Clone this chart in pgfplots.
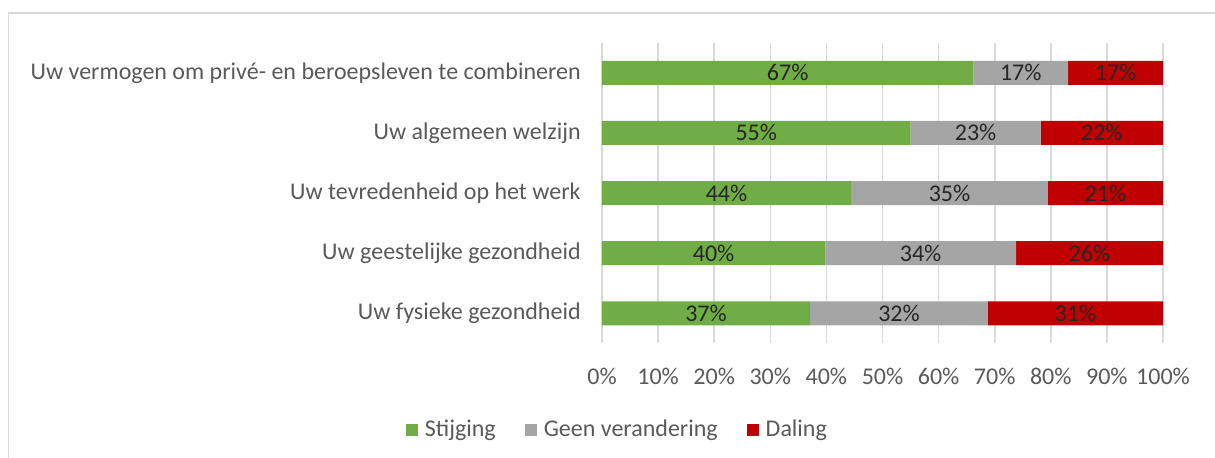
\documentclass[border=0pt]{standalone}
\usepackage{fontspec}
\setmainfont{Carlito}
\usepackage{pgfplots}
\pgfplotsset{compat=1.18}

\definecolor{cGreen}{HTML}{70AD47}
\definecolor{cGray}{HTML}{A5A5A5}
\definecolor{cRed}{HTML}{C00000}
\definecolor{cGrid}{HTML}{D9D9D9}
\definecolor{cText}{HTML}{595959}
\definecolor{cLab}{HTML}{262626}

% y = row (1 = top), v = share in percent, l = label as printed
\pgfplotstableread{
y v l
1 66.2 67
2 55.0 55
3 44.4 44
4 39.8 40
5 37.1 37
}\stijging
\pgfplotstableread{
y v l
1 16.9 17
2 23.2 23
3 35.1 35
4 34.0 34
5 31.7 32
}\geen
\pgfplotstableread{
y v l
1 16.9 17
2 21.8 22
3 20.5 21
4 26.2 26
5 31.2 31
}\daling

\begin{document}
\begin{tikzpicture}
\useasboundingbox (0,0) rectangle (607.5pt,228.5pt);
\draw[cGrid, line width=0.8pt] (4.25pt,-5pt) -- (4.25pt,222pt) -- (615pt,222pt);
\begin{axis}[
    at={(301pt,56.85pt)}, anchor=south west,
    scale only axis, width=280.5pt, height=150.3pt,
    xbar stacked, bar width=12pt,
    xmin=0, xmax=100, ymin=0.5, ymax=5.5, y dir=reverse,
    xtick={0,10,...,100}, xticklabel={\pgfmathprintnumber{\tick}\%},
    ytick={1,2,3,4,5},
    yticklabels={Uw vermogen om privé- en beroepsleven te combineren,
        Uw algemeen welzijn, Uw tevredenheid op het werk,
        Uw geestelijke gezondheid, Uw fysieke gezondheid},
    xmajorgrids, grid style={cGrid, line width=0.8pt},
    axis line style={draw=none}, major tick length=0pt,
    /pgf/number format/assume math mode=true,
    tick label style={font=\fontsize{12}{14}\selectfont, text=cText},
    yticklabel style={inner sep=0pt, xshift=-10.5pt},
    xticklabel style={inner sep=0pt, yshift=-12pt},
    legend columns=3,
    legend style={at={(0.032,-0.288)}, anchor=center, draw=none, fill=none,
        font=\fontsize{12}{14}\selectfont, text=cText,
        nodes={inner sep=0pt, inner xsep=3.5pt},
        /tikz/every even column/.append style={column sep=11pt}},
    sq/.style={legend image code/.code={\fill[##1] (0pt,-3pt) rectangle (6pt,3pt);}},
    lab/.style={point meta=explicit symbolic, nodes near coords={\pgfplotspointmeta\%},
        nodes near coords style={anchor=center, inner sep=0pt,
            font=\fontsize{12}{14}\selectfont, text=cLab}},
]
\addplot[fill=cGreen, draw=none, sq, lab] table[x=v, y=y, meta=l] {\stijging};
\addplot[fill=cGray, draw=none, sq, lab] table[x=v, y=y, meta=l] {\geen};
\addplot[fill=cRed, draw=none, sq, lab] table[x=v, y=y, meta=l] {\daling};
\legend{Stijging, Geen verandering, Daling}
\end{axis}
\end{tikzpicture}
\end{document}
